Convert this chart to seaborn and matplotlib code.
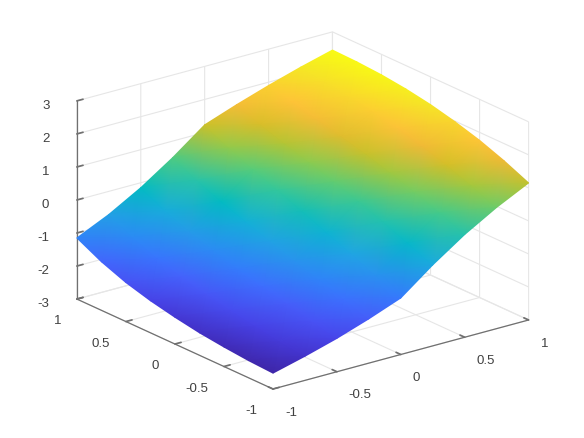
import matplotlib
matplotlib.use("Agg")
import matplotlib.pyplot as plt
import matplotlib.transforms as mtransforms
import numpy as np
import seaborn as sns
from mpl_toolkits.mplot3d import proj3d

# Grid del surface
x_vals = [-1, -0.75, -0.5, -0.25, 0, 0.25, 0.5, 0.75, 1]
y_vals = [1, 0.75, 0.5, 0.25, 0, -0.25, -0.5, -0.75, -1]
z_row0 = [-1.15, -0.70, -0.15, 0.50, 1.23, 1.58, 1.90, 2.19, 2.45]
z_row1 = [-1.53, -1.06, -0.50, 0.15, 0.88, 1.32, 1.73, 2.10, 2.43]
z_row2 = [-1.82, -1.35, -0.79, -0.15, 0.56, 1.08, 1.56, 1.99, 2.38]
z_row3 = [-2.03, -1.57, -1.03, -0.42, 0.27, 0.85, 1.38, 1.86, 2.29]
z_row4 = [-2.19, -1.75, -1.25, -0.67, -0.03, 0.61, 1.19, 1.70, 2.16]
z_row5 = [-2.32, -1.91, -1.45, -0.92, -0.33, 0.35, 0.96, 1.50, 1.98]
z_row6 = [-2.41, -2.04, -1.63, -1.16, -0.63, 0.07, 0.71, 1.27, 1.76]
z_row7 = [-2.48, -2.17, -1.82, -1.41, -0.96, -0.23, 0.43, 0.99, 1.48]
z_row8 = [-2.52, -2.27, -1.99, -1.66, -1.29, -0.55, 0.11, 0.67, 1.15]

xy_ticks = [-1, -0.5, 0, 0.5, 1]
xy_labels = ['-1', '-0.5', '0', '0.5', '1']
z_ticks = [-3, -2, -1, 0, 1, 2, 3]
z_labels = ['-3', '-2', '-1', '0', '1', '2', '3']

# Parula
parula = [
    (0.2422, 0.1504, 0.6603), (0.2647, 0.1978, 0.7952), (0.2783, 0.2559, 0.8991),
    (0.2810, 0.3228, 0.9579), (0.2699, 0.3892, 0.9906), (0.2206, 0.4603, 0.9973),
    (0.1786, 0.5289, 0.9682), (0.1540, 0.5902, 0.9218), (0.1248, 0.6459, 0.8883),
    (0.0689, 0.6948, 0.8394), (0.0067, 0.7312, 0.7660), (0.1408, 0.7584, 0.6842),
    (0.2161, 0.7843, 0.5923), (0.3406, 0.8008, 0.4789), (0.5044, 0.7993, 0.3480),
    (0.6720, 0.7793, 0.2227), (0.8203, 0.7498, 0.1535), (0.9393, 0.7288, 0.2100),
    (0.9970, 0.7659, 0.2199), (0.9786, 0.8386, 0.1766), (0.9597, 0.9135, 0.1423),
    (0.9769, 0.9839, 0.0805),
]

sns.set_theme(style="white", rc={"font.size": 9.5, "axes.grid": False})
plt.rcParams['font.family'] = ['Liberation Sans', 'DejaVu Sans']
cmap = sns.blend_palette(parula, n_colors=256, as_cmap=True)

W, H = 584, 438
gray = '#404040'
fig = plt.figure(figsize=(W / 100, H / 100), dpi=100)
ax = fig.add_axes([0, 0, 1, 1], projection='3d', proj_type='ortho')
ax.view_init(elev=20.6, azim=-127.5)
ax.set_xlim(-1, 1, view_margin=0)
ax.set_ylim(-1, 1, view_margin=0)
ax.set_zlim(-3, 3, view_margin=0)
ax.set_xticks(xy_ticks, xy_labels)
ax.set_yticks(xy_ticks, xy_labels)
ax.set_zticks(z_ticks, z_labels)
for axis in (ax.xaxis, ax.yaxis, ax.zaxis):
    axis.set_pane_color((1, 1, 1, 0))
    axis.pane.set_edgecolor('none')
    axis.line.set_color('#707070')
    axis.line.set_linewidth(0.9)
    axis._axinfo['grid'].update(color='#e6e6e6', linewidth=0.8)
    axis._axinfo['tick'].update(inward_factor=0, outward_factor=0.3)
    axis.set_tick_params(colors=gray, labelsize=9.5, pad=2, width=0.7, color='#707070')

# Etiquetas corridas en pixeles, alineadas como en el original
label_shift = [(ax.xaxis, 'left', -1.5, 6.5), (ax.yaxis, 'right', 2, 8), (ax.zaxis, 'right', 15.5, 7)]
for axis, align, dx, dy in label_shift:
    for tick in axis.get_major_ticks():
        tick.label1.set_ha(align)
        tick.label1.set_transform(ax.transData + mtransforms.Affine2D().translate(dx, dy))


def to_pixels(xs, ys, zs):
    px, py, _ = proj3d.proj_transform(np.asarray(xs, float), np.asarray(ys, float), np.asarray(zs, float), ax.get_proj())
    return ax.transData.transform(np.column_stack([np.ravel(px), np.ravel(py)])).reshape(np.shape(px) + (2,))


# Ajuste de zoom y posicion para caer en los pixeles del original
zoom = 1.0
ax.set_box_aspect((322, 322, 211.6), zoom=zoom)
fig.canvas.draw()
a, b = to_pixels([-1, 1], [-1, -1], [-3, -3])
zoom *= 255.6 / (b[0] - a[0])
ax.set_box_aspect((322, 322, 211.6), zoom=zoom)
fig.canvas.draw()
a = to_pixels([-1], [-1], [-3])[0]
ax.set_position([(273 - a[0]) / W, (H - 389 - a[1]) / H, 1, 1])
fig.canvas.draw()

# Superficie con gouraud sobre la proyeccion de los ejes 3D
Z = np.array([z_row0, z_row1, z_row2, z_row3, z_row4, z_row5, z_row6, z_row7, z_row8])
X, Y = np.meshgrid(x_vals, y_vals)
pix = to_pixels(X.ravel(), Y.ravel(), Z.ravel()).reshape(X.shape + (2,))

ov = fig.add_axes([0, 0, 1, 1])
ov.set_xlim(0, W)
ov.set_ylim(0, H)
ov.axis('off')
ov.pcolormesh(pix[..., 0], pix[..., 1], Z, shading='gouraud', cmap=cmap, vmin=Z.min(), vmax=Z.max())

fig.savefig('out.png', dpi=100)
